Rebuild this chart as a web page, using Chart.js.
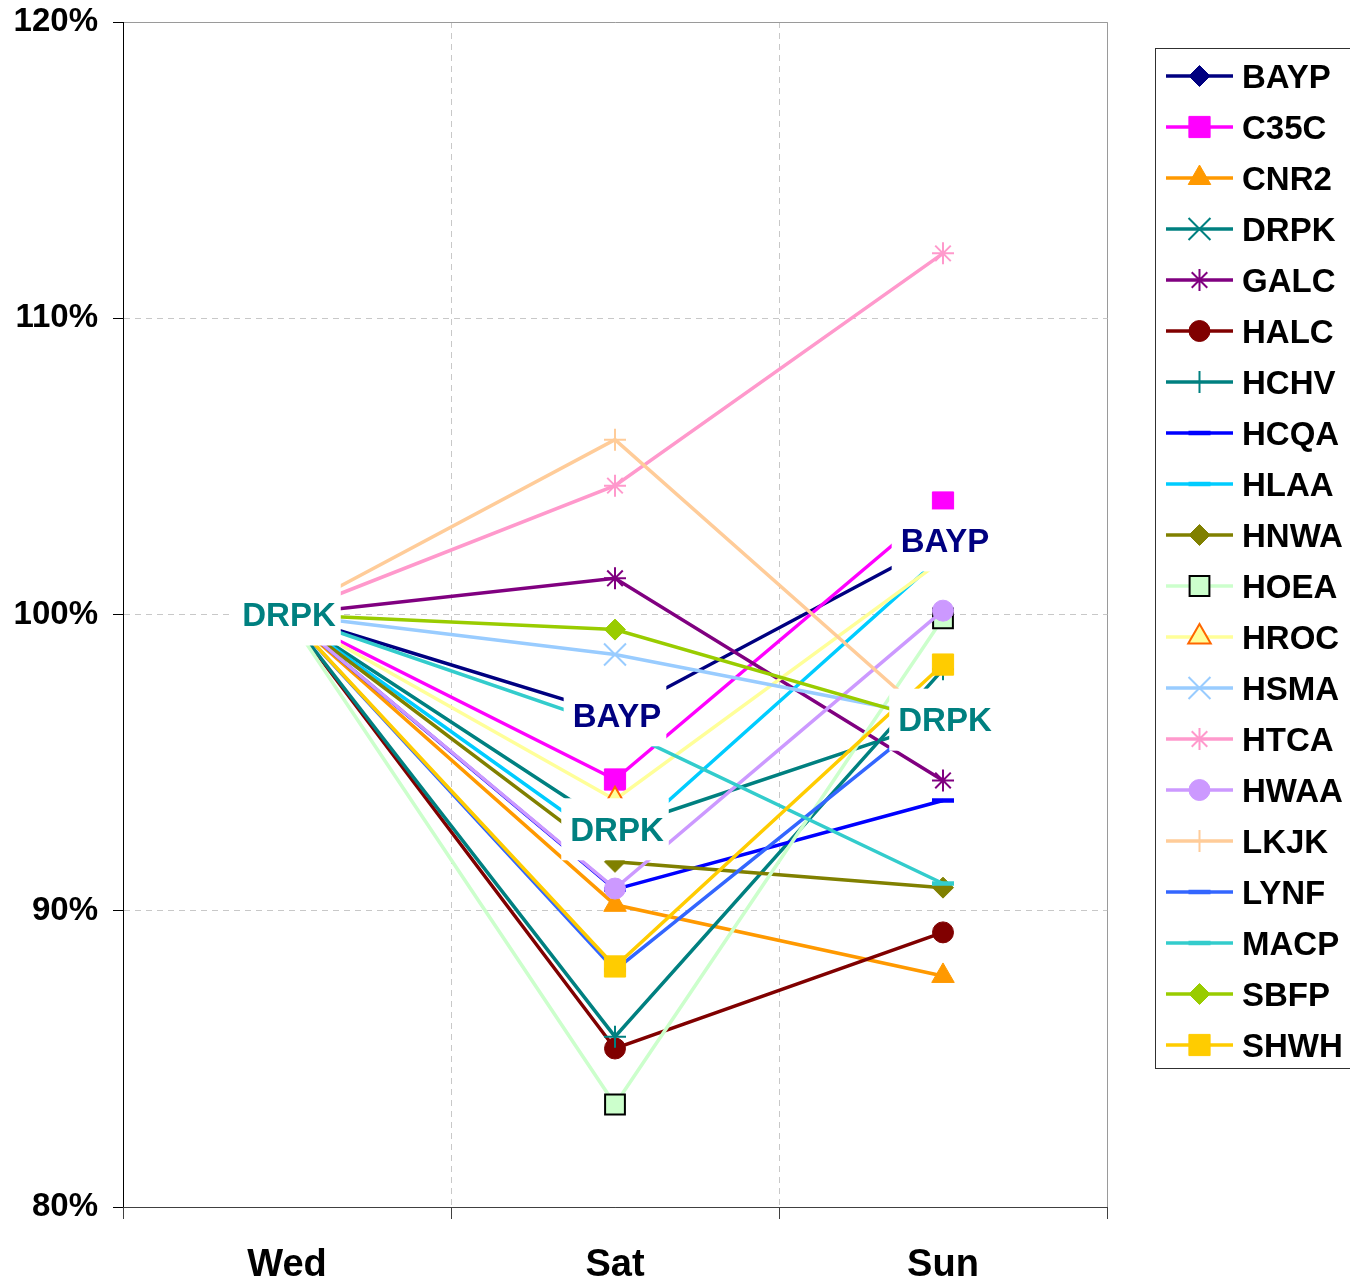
<!DOCTYPE html>
<html>
<head>
<meta charset="utf-8">
<title>Station index, Wed / Sat / Sun</title>
<script src="https://cdn.jsdelivr.net/npm/chart.js@4/dist/chart.umd.min.js"></script>
<style>
  html, body { margin: 0; padding: 0; background: #ffffff; }
  canvas { display: block; }
</style>
</head>
<body>
<canvas id="chart" width="1350" height="1287"></canvas>
<script>
// Day categories and y-axis tick values (percent of Wednesday level)
const categories = ['Wed', 'Sat', 'Sun'];
const yTicks = [80, 90, 100, 110, 120];

// Series values, percent, one entry per day
const BAYP = [100, 96.6, 102.5];
const C35C = [100, 94.43, 103.78];
const CNR2 = [100, 90.2, 87.8];
const DRPK = [100, 92.75, 96.45];
const GALC = [100, 101.22, 94.4];
const HALC = [100, 85.35, 89.27];
const HCHV = [100, 85.75, 98.15];
const HCQA = [100, 90.72, 93.72];
const HLAA = [100, 92.1, 102.0];
const HNWA = [100, 91.65, 90.78];
const HOEA = [100, 83.46, 99.87];
const HROC = [100, 93.75, 101.85];
const HSMA = [100, 98.65, 96.5];
const HTCA = [100, 104.35, 112.19];
const HWAA = [100, 90.75, 100.13];
const LKJK = [100, 105.9, 96.1];
const LYNF = [100, 88.0, 96.9];
const MACP = [100, 96.2, 90.92];
const SBFP = [100, 99.49, 96.3];
const SHWH = [100, 88.12, 98.31];

// Series with their line colour and marker look
const series = [
  { name: 'BAYP', data: BAYP, color: '#000080', marker: 'rectRot',  r: 10.5 },
  { name: 'C35C', data: C35C, color: '#FF00FF', marker: 'rect',     r: 15 },
  { name: 'CNR2', data: CNR2, color: '#FF9900', marker: 'triangle', r: 13 },
  { name: 'DRPK', data: DRPK, color: '#008080', marker: 'crossRot', r: 15.5, bw: 2 },
  { name: 'GALC', data: GALC, color: '#800080', marker: 'star',     r: 11, bw: 2 },
  { name: 'HALC', data: HALC, color: '#800000', marker: 'circle',   r: 10.5 },
  { name: 'HCHV', data: HCHV, color: '#008080', marker: 'cross',    r: 11, bw: 2 },
  { name: 'HCQA', data: HCQA, color: '#0000FF', marker: 'line',     r: 11, bw: 4.5 },
  { name: 'HLAA', data: HLAA, color: '#00CCFF', marker: 'line',     r: 11, bw: 4.5 },
  { name: 'HNWA', data: HNWA, color: '#808000', marker: 'rectRot',  r: 10.5 },
  { name: 'HOEA', data: HOEA, color: '#CCFFCC', marker: 'rect',     r: 14, fill: '#CCFFCC', edge: '#000000', bw: 2 },
  { name: 'HROC', data: HROC, color: '#FFFF99', marker: 'triangle', r: 13, fill: '#FFFF99', edge: '#FF6600', bw: 2 },
  { name: 'HSMA', data: HSMA, color: '#99CCFF', marker: 'crossRot', r: 15.5, bw: 2 },
  { name: 'HTCA', data: HTCA, color: '#FF99CC', marker: 'star',     r: 11, bw: 2 },
  { name: 'HWAA', data: HWAA, color: '#CC99FF', marker: 'circle',   r: 10.5 },
  { name: 'LKJK', data: LKJK, color: '#FFCC99', marker: 'cross',    r: 11, bw: 2 },
  { name: 'LYNF', data: LYNF, color: '#3366FF', marker: 'line',     r: 11, bw: 4.5 },
  { name: 'MACP', data: MACP, color: '#33CCCC', marker: 'line',     r: 11, bw: 4.5 },
  { name: 'SBFP', data: SBFP, color: '#99CC00', marker: 'rectRot',  r: 10.5 },
  { name: 'SHWH', data: SHWH, color: '#FFCC00', marker: 'rect',     r: 15 }
];

// Series whose points carry a name label, and on which days
const labelledPoints = [
  { name: 'BAYP', days: ['Sat', 'Sun'] },
  { name: 'DRPK', days: ['Wed', 'Sat', 'Sun'] }
];

const FONT = '"Liberation Sans", Arial, Helvetica, sans-serif';

const datasets = series.map((s, i) => ({
  label: s.name,
  data: s.data,
  borderColor: s.color,
  backgroundColor: s.fill || s.color,
  borderWidth: 3.5,
  tension: 0,
  pointStyle: s.marker,
  pointRadius: s.r,
  pointHoverRadius: s.r,
  pointBackgroundColor: s.fill || s.color,
  pointBorderColor: s.edge || s.color,
  pointBorderWidth: s.bw || 1,
  // later series are painted over earlier ones
  order: series.length - i
}));

// Plot frame: grey top/right edges, black value axis, dark category axis
const framePlugin = {
  id: 'frame',
  beforeDatasetsDraw(chart) {
    const { ctx, chartArea: a } = chart;
    ctx.save();
    ctx.lineWidth = 1;
    ctx.strokeStyle = '#9a9a9a';
    ctx.beginPath();
    ctx.moveTo(a.left, a.top + 0.5);
    ctx.lineTo(a.right + 0.5, a.top + 0.5);
    ctx.lineTo(a.right + 0.5, a.bottom);
    ctx.stroke();
    ctx.strokeStyle = '#000000';
    ctx.beginPath();
    ctx.moveTo(a.left + 0.5, a.top);
    ctx.lineTo(a.left + 0.5, a.bottom);
    ctx.stroke();
    ctx.strokeStyle = '#404040';
    ctx.beginPath();
    ctx.moveTo(a.left, a.bottom + 0.5);
    ctx.lineTo(a.right + 1, a.bottom + 0.5);
    ctx.stroke();
    ctx.restore();
  }
};

// Name labels on white boxes, centred on their points
const pointLabelPlugin = {
  id: 'pointLabels',
  afterDatasetsDraw(chart) {
    const { ctx } = chart;
    const size = 33;
    ctx.save();
    ctx.font = `bold ${size}px ${FONT}`;
    ctx.textAlign = 'center';
    ctx.textBaseline = 'alphabetic';
    labelledPoints.forEach(lp => {
      const idx = series.findIndex(s => s.name === lp.name);
      const meta = chart.getDatasetMeta(idx);
      lp.days.forEach(day => {
        const el = meta.data[categories.indexOf(day)];
        const w = ctx.measureText(lp.name).width + 14;
        const h = 62;
        ctx.fillStyle = '#ffffff';
        ctx.fillRect(el.x - w / 2, el.y - h / 2, w, h);
        ctx.fillStyle = series[idx].color;
        ctx.fillText(lp.name, el.x + 2, el.y + size * 0.358);
      });
    });
    ctx.restore();
  }
};

// Boxed legend on the right: line sample with marker, then the name
const sideLegendPlugin = {
  id: 'sideLegend',
  afterDraw(chart) {
    const { ctx } = chart;
    const box = { left: 1155, top: 48, bottom: 1068, right: 1360 };
    const rowGap = 51;
    const size = 33;
    ctx.save();
    ctx.fillStyle = '#ffffff';
    ctx.fillRect(box.left, box.top, box.right - box.left, box.bottom - box.top);
    ctx.strokeStyle = '#303030';
    ctx.lineWidth = 1;
    ctx.strokeRect(box.left + 0.5, box.top + 0.5, box.right - box.left, box.bottom - box.top);
    chart.data.datasets.forEach((ds, i) => {
      const y = box.top + 28 + i * rowGap;
      ctx.strokeStyle = ds.borderColor;
      ctx.lineWidth = 3.5;
      ctx.beginPath();
      ctx.moveTo(1166, y);
      ctx.lineTo(1233, y);
      ctx.stroke();
      ctx.fillStyle = ds.pointBackgroundColor;
      ctx.strokeStyle = ds.pointBorderColor;
      ctx.lineWidth = ds.pointBorderWidth;
      Chart.helpers.drawPoint(ctx, {
        pointStyle: ds.pointStyle,
        radius: ds.pointRadius,
        borderWidth: ds.pointBorderWidth,
        rotation: 0
      }, 1199.5, y);
      ctx.fillStyle = '#000000';
      ctx.font = `bold ${size}px ${FONT}`;
      ctx.textAlign = 'left';
      ctx.textBaseline = 'alphabetic';
      ctx.fillText(ds.label, 1242, y + size * 0.358);
    });
    ctx.restore();
  }
};

new Chart(document.getElementById('chart'), {
  type: 'line',
  data: { labels: categories, datasets },
  plugins: [framePlugin, pointLabelPlugin, sideLegendPlugin],
  options: {
    responsive: false,
    animation: false,
    devicePixelRatio: 1,
    events: [],
    layout: { padding: { left: 0, top: 22, right: 243, bottom: 0 } },
    plugins: {
      legend: { display: false },
      tooltip: { enabled: false },
      title: { display: false }
    },
    scales: {
      x: {
        type: 'category',
        offset: true,
        grid: {
          offset: true,
          color: '#c8c8c8',
          lineWidth: 1,
          tickColor: '#404040',
          tickLength: 12,
          tickBorderDash: []
        },
        border: { display: true, color: '#404040', width: 1, dash: [6, 5] },
        ticks: {
          color: '#000000',
          padding: 24,
          font: { family: FONT, size: 38, weight: 'bold' }
        },
        afterFit(scale) { scale.height = 80; }
      },
      y: {
        type: 'linear',
        min: yTicks[0],
        max: yTicks[yTicks.length - 1],
        afterBuildTicks(scale) { scale.ticks = yTicks.map(v => ({ value: v })); },
        grid: {
          color: ctx => (ctx.tick && (ctx.tick.value === yTicks[0] || ctx.tick.value === yTicks[yTicks.length - 1])) ? 'rgba(0,0,0,0)' : '#c8c8c8',
          lineWidth: 1,
          tickColor: '#000000',
          tickLength: 10,
          tickBorderDash: []
        },
        border: { display: true, color: '#000000', width: 1, dash: [6, 5] },
        ticks: {
          color: '#000000',
          padding: 15,
          font: { family: FONT, size: 33, weight: 'bold' },
          callback: v => v + '%'
        },
        afterFit(scale) {
          scale.width = 123;
          scale.paddingTop = 0;
          scale.paddingBottom = 0;
        }
      }
    }
  }
});
</script>
</body>
</html>
